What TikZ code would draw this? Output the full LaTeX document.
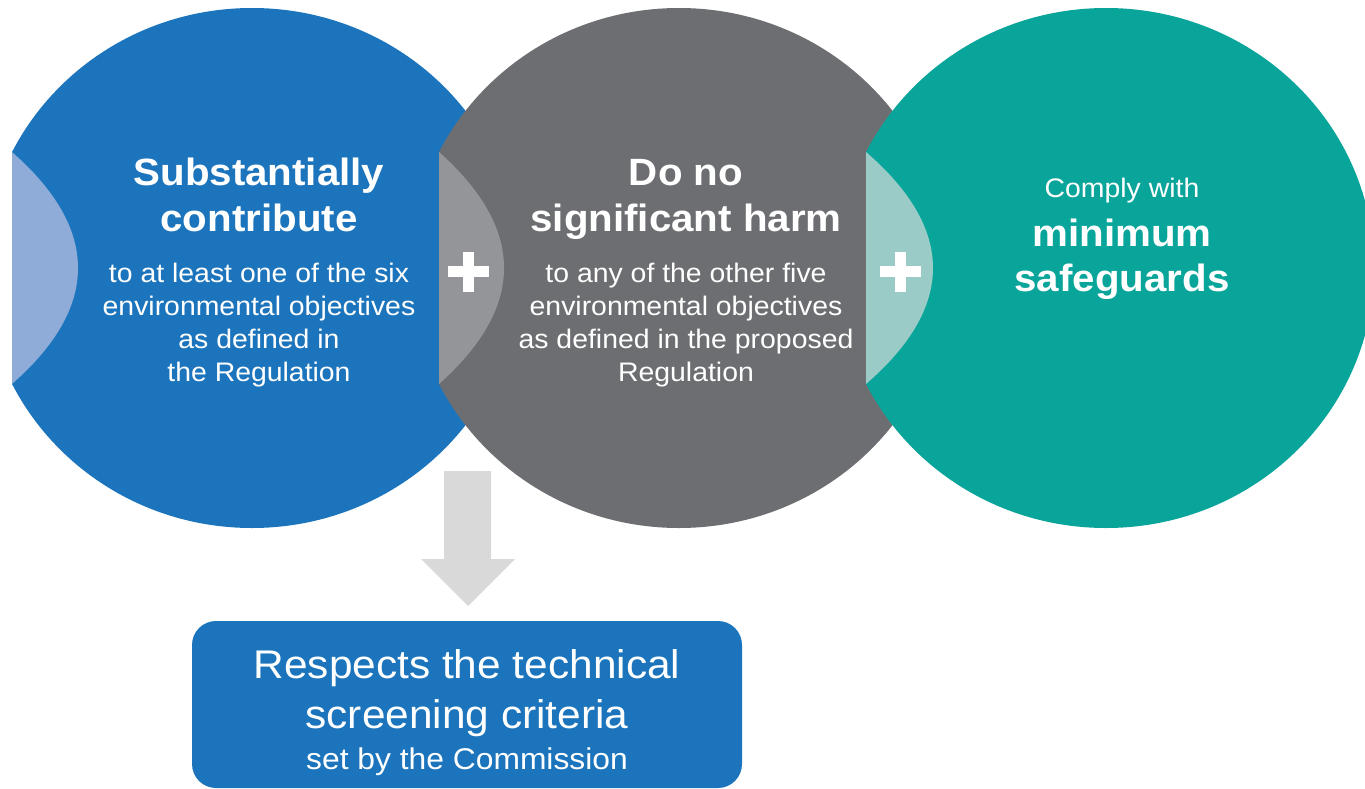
\documentclass[tikz,border=0pt]{standalone}
\usepackage{fontspec}
\setmainfont{Liberation Sans}[FakeStretch=1.06]
\definecolor{cblue}{HTML}{1C75BC}
\definecolor{cbluelens}{HTML}{8FACD9}
\definecolor{cgray}{HTML}{6D6E71}
\definecolor{cgraylens}{HTML}{949598}
\definecolor{cteal}{HTML}{0AA59A}
\definecolor{ctealens}{HTML}{9ACBC6}
\definecolor{carrow}{HTML}{D9D9D9}
\begin{document}
\begin{tikzpicture}[x=1pt,y=-1pt,
  txt/.style={text=white, inner sep=0pt, anchor=base},
  headtxt/.style={txt, font=\bfseries\fontsize{38}{40}\selectfont},
  bodytxt/.style={txt, font=\fontsize{26.8}{30}\selectfont},
  bigtxt/.style={txt, font=\fontsize{40}{44}\selectfont},
  smalltxt/.style={txt, font=\fontsize{30}{33}\selectfont},
  plusbar/.style={fill=white}]
\useasboundingbox (0,0) rectangle (1365,789);

% first disc: blue, cut off on the left
\begin{scope}
  \clip (12,0) rectangle (1400,800);
  \fill[cblue] (252,268) ellipse [x radius=268, y radius=260];
\end{scope}
\fill[cbluelens] (12,152) .. controls (100,229.3) and (100,306.7) .. (12,384) -- cycle;

% second disc: grey
\begin{scope}
  \clip (439,0) rectangle (1400,800);
  \fill[cgray] (679,268) ellipse [x radius=268, y radius=260];
\end{scope}
\fill[cgraylens] (439,152) .. controls (525.7,229.3) and (525.7,306.7) .. (439,384) -- cycle;
\fill[plusbar] (448,266) rectangle (489,277);
\fill[plusbar] (463,252) rectangle (474,292);

% third disc: teal
\begin{scope}
  \clip (866,0) rectangle (1400,800);
  \fill[cteal] (1106,268) ellipse [x radius=268, y radius=260];
\end{scope}
\fill[ctealens] (866,152) .. controls (955.3,229.3) and (955.3,306.7) .. (866,384) -- cycle;
\fill[plusbar] (880,266) rectangle (921,277);
\fill[plusbar] (895,252) rectangle (906,292);

% texts of the blue disc
\node[headtxt] (b1) at (259,185) {Substantially};
\node[headtxt] (b2) at (259,231) {contribute};
\node[bodytxt] (b3) at (259,282) {to at least one of the six};
\node[bodytxt] (b4) at (259,315) {environmental objectives};
\node[bodytxt] (b5) at (259,348) {as defined in};
\node[bodytxt] (b6) at (259,381) {the Regulation};

% texts of the grey disc
\node[headtxt] (g1) at (686,185) {Do no};
\node[headtxt] (g2) at (686,231) {significant harm};
\node[bodytxt] (g3) at (686,282) {to any of the other five};
\node[bodytxt] (g4) at (686,315) {environmental objectives};
\node[bodytxt] (g5) at (686,348) {as defined in the proposed};
\node[bodytxt] (g6) at (686,381) {Regulation};

% texts of the teal disc
\node[bodytxt] (t1) at (1122,197) {Comply with};
\node[headtxt] (t2) at (1122,246) {minimum};
\node[headtxt] (t3) at (1122,291) {safeguards};

% block arrow down to the criteria box
\fill[carrow] (444,471) -- (491,471) -- (491,559) -- (515,559) -- (468,606)
  -- (421,559) -- (444,559) -- cycle;

% criteria box
\fill[cblue, rounded corners=24pt] (192,621) rectangle (742,788);
\node[bigtxt] (c1) at (467,678) {Respects the technical};
\node[bigtxt] (c2) at (467,728) {screening criteria};
\node[smalltxt] (c3) at (467,769) {set by the Commission};
\end{tikzpicture}
\end{document}
